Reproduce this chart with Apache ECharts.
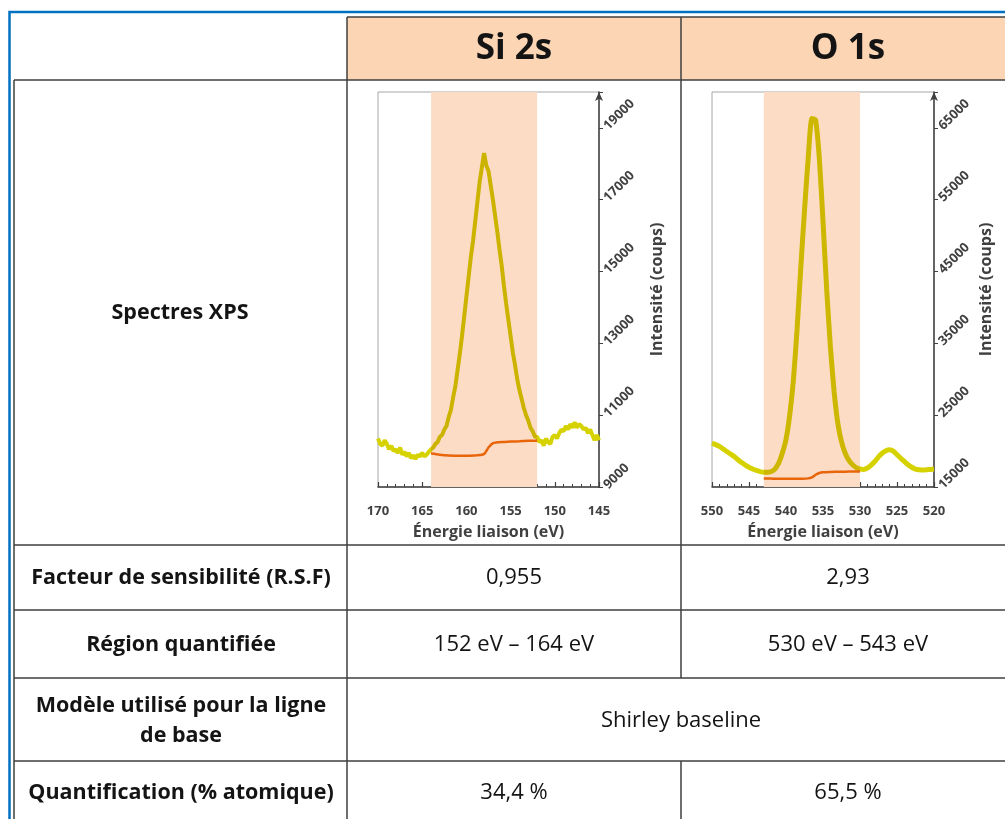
<!DOCTYPE html>
<html><head><meta charset="utf-8">
<script src="https://cdn.jsdelivr.net/npm/echarts@6/dist/echarts.min.js"></script>
<style>html,body{margin:0;padding:0;background:#fff}#c{width:1005px;height:819px}</style>
</head><body><div id="c"></div>
<script>
// ---------- Data ----------
const siEnergy = [170,169.75,169.5,169.25,169,168.75,168.5,168.25,168,167.75,167.5,167.25,167,166.75,166.5,166.25,166,165.75,165.5,165.25,165,164.75,164.5,164.25,164,163.75,163.5,163.25,163,162.75,162.5,162.25,162,161.75,161.5,161.25,161,160.75,160.5,160.25,160,159.75,159.5,159.25,159,158.75,158.5,158.25,158,157.75,157.5,157.25,157,156.75,156.5,156.25,156,155.75,155.5,155.25,155,154.75,154.5,154.25,154,153.75,153.5,153.25,153,152.75,152.5,152.25,152,151.75,151.5,151.25,151,150.75,150.5,150.25,150,149.75,149.5,149.25,149,148.75,148.5,148.25,148,147.75,147.5,147.25,147,146.75,146.5,146.25,146,145.75,145.5,145.25,145];
const siIntensity = [10350,10200,10150,10300,10200,10050,10150,10000,10050,9950,10100,9900,9980,9850,9950,9800,9880,9780,9900,9850,9950,9850,9900,9980,10050,10100,10200,10250,10400,10450,10600,10700,10950,11150,11500,11800,12250,12700,13200,13750,14300,14850,15400,15850,16400,16950,17500,17900,18300,17950,17800,17400,17000,16550,16100,15600,15150,14600,14100,13650,13200,12750,12400,12000,11700,11450,11200,11000,10850,10650,10550,10400,10400,10250,10300,10150,10350,10250,10200,10400,10450,10350,10500,10600,10550,10700,10600,10750,10650,10800,10650,10750,10700,10600,10650,10500,10600,10450,10300,10450,10300];
const siBaseEnergy = [164,163,162,161,160,159,158.5,158,157.5,157,156.5,156,155,154,153,152];
const siBaseIntensity = [9930,9900,9880,9870,9870,9880,9890,9920,10100,10220,10245,10255,10265,10275,10285,10290];
const siRegion = [152, 164];

const oEnergy = [550,549.5,549,548.5,548,547.5,547,546.5,546,545.5,545,544.5,544,543.5,543,542.5,542,541.5,541,540.5,540,539.5,539,538.5,538,537.5,537,536.5,536,535.5,535,534.5,534,533.5,533,532.5,532,531.5,531,530.5,530,529.5,529,528.5,528,527.5,527,526.5,526,525.5,525,524.5,524,523.5,523,522.5,522,521.5,521,520.5,520];
const oIntensity = [21100,20900,20650,20300,19950,19600,19250,18800,18400,18050,17750,17500,17300,17150,17050,17050,17150,17500,18300,19700,21600,25000,29900,37000,45600,53500,60800,66300,66100,60800,52000,42500,34500,28300,23900,21300,19700,18700,18100,17700,17500,17450,17650,18050,18550,19200,19700,20050,20200,20000,19500,19000,18550,18100,17750,17500,17400,17350,17400,17450,17500];
const oBaseEnergy = [543,542,541,540,539,538,537,536.5,536,535.5,535,534,533,532,531,530];
const oBaseIntensity = [16200,16170,16150,16150,16150,16160,16200,16350,16700,16950,17050,17100,17120,17140,17150,17160];
const oRegion = [530, 543];

const headers = ['Si 2s', 'O 1s'];
const rowLabels = ['Spectres XPS', 'Facteur de sensibilité (R.S.F)', 'Région quantifiée', 'Modèle utilisé pour la ligne\nde base', 'Quantification (% atomique)'];
const rsfValues = ['0,955', '2,93'];
const regionValues = ['152 eV – 164 eV', '530 eV – 543 eV'];
const baselineModel = 'Shirley baseline';
const quantValues = ['34,4 %', '65,5 %'];
const siYTicks = [9000, 20000, 2000];
const oYTicks = [15000, 70000, 10000];

// ---------- Style ----------
const FONT = '"Open Sans", Lato, sans-serif';
const LINE = '#3f3f3f';
const AX = '#404040';
const pairs = (xs, ys) => xs.map((x, i) => [x, ys[i]]);

function hline(y, x1, x2) { return {type:'line', shape:{x1:x1,y1:y,x2:x2,y2:y}, style:{stroke:LINE, lineWidth:1.5}, z:10}; }
function vline(x, y1, y2) { return {type:'line', shape:{x1:x,y1:y1,x2:x,y2:y2}, style:{stroke:LINE, lineWidth:1.5}, z:10}; }
function txt(t, x, y, size, bold, lh) {
  return {type:'text', x:x, y:y, z:11, style:{text:t, align:'center', verticalAlign:'middle',
    font:(bold?'bold ':'') + size + 'px ' + FONT, fill:'#141414', lineHeight: lh || size*1.4}};
}

const graphic = [
  {type:'rect', shape:{x:347,y:17,width:334,height:63}, style:{fill:'#fcd5b4'}, z:9},
  {type:'rect', shape:{x:681,y:17,width:330,height:63}, style:{fill:'#fcd5b4'}, z:9},
  {type:'polyline', shape:{points:[[9.5,819],[9.5,12],[1005,12]]}, style:{stroke:'#0070c0', lineWidth:2.5, fill:null}, z:10},
  hline(17,347,1005), hline(80,14,1005), hline(545,14,1005), hline(610,14,1005), hline(678,14,1005), hline(761,14,1005),
  vline(14,80,819), vline(347,17,819), vline(681,17,678), vline(681,761,819),
  txt(headers[0], 514, 49, 35, true), txt(headers[1], 848, 49, 35, true),
  txt(rowLabels[0], 180, 313, 21.5, true),
  txt(rowLabels[1], 181, 578, 21.5, true),
  txt(rowLabels[2], 181, 645, 21.5, true),
  txt(rowLabels[3], 181, 721, 21.5, true, 30),
  txt(rowLabels[4], 181, 793, 21.5, true),
  txt(rsfValues[0], 514, 578, 22, false), txt(rsfValues[1], 848, 578, 22, false),
  txt(regionValues[0], 514, 645, 22, false), txt(regionValues[1], 848, 645, 22, false),
  txt(baselineModel, 681, 721, 22, false),
  txt(quantValues[0], 514, 793, 22, false), txt(quantValues[1], 848, 793, 22, false)
];

function xAxisCfg(gi, min, max) {
  return {gridIndex:gi, type:'value', min:min, max:max, interval:5, inverse:true,
    axisLine:{lineStyle:{color:AX, width:1.5}},
    axisTick:{inside:true, length:5, lineStyle:{color:AX, width:1.2}},
    minorTick:{show:true, splitNumber:5, length:3, lineStyle:{color:AX, width:1}},
    splitLine:{show:false}, minorSplitLine:{show:false},
    axisLabel:{color:AX, fontWeight:'bold', fontSize:13, fontFamily:FONT, margin:18},
    name:'Énergie liaison (eV)', nameLocation:'middle', nameGap:37,
    nameTextStyle:{color:AX, fontWeight:'bold', fontSize:16, fontFamily:FONT}};
}
function yAxisCfg(gi, t, gap) {
  return {gridIndex:gi, type:'value', position:'right', min:t[0], max:t[1], interval:t[2],
    axisLine:{show:true, lineStyle:{color:AX, width:1.5}, symbol:['none','arrow'], symbolSize:[6,9]},
    axisTick:{show:true, length:4, lineStyle:{color:AX}},
    splitLine:{show:false},
    axisLabel:{rotate:45, margin:7, color:AX, fontWeight:'bold', fontSize:13, fontFamily:FONT,
      formatter: v => (v === t[1] ? '' : String(v))},
    name:'Intensité (coups)', nameLocation:'middle', nameRotate:90, nameGap:gap,
    nameTextStyle:{color:AX, fontWeight:'bold', fontSize:16, fontFamily:FONT}};
}

const option = {
  animation:false,
  graphic: graphic,
  grid:[
    {left:378, top:92, width:221, height:395, show:true, borderColor:'#a6a6a6', borderWidth:1, backgroundColor:'transparent'},
    {left:712, top:92, width:222, height:395, show:true, borderColor:'#a6a6a6', borderWidth:1, backgroundColor:'transparent'}
  ],
  xAxis:[xAxisCfg(0,145,170), xAxisCfg(1,520,550)],
  yAxis:[yAxisCfg(0, siYTicks, 50), yAxisCfg(1, oYTicks, 44)],
  visualMap:[
    {type:'piecewise', show:false, seriesIndex:1, dimension:0,
      pieces:[{gte:siRegion[0], lte:siRegion[1], color:'#cbb300'}], outOfRange:{color:'#d6d200'}},
    {type:'piecewise', show:false, seriesIndex:4, dimension:0,
      pieces:[{gte:oRegion[0], lte:oRegion[1], color:'#cdb700'}], outOfRange:{color:'#d6d200'}}
  ],
  series:[
    {type:'line', xAxisIndex:0, yAxisIndex:0, data:[], z:1, silent:true,
      markArea:{silent:true, itemStyle:{color:'#fcdcc5'}, data:[[{xAxis:siRegion[1]},{xAxis:siRegion[0]}]]}},
    {type:'line', xAxisIndex:0, yAxisIndex:0, data:pairs(siEnergy, siIntensity), z:3, symbol:'none',
      lineStyle:{width:4}},
    {type:'line', xAxisIndex:0, yAxisIndex:0, data:pairs(siBaseEnergy, siBaseIntensity), z:4, symbol:'none', smooth:0.3,
      lineStyle:{width:2.5, color:'#e8650a'}},
    {type:'line', xAxisIndex:1, yAxisIndex:1, data:[], z:1, silent:true,
      markArea:{silent:true, itemStyle:{color:'#fcdcc5'}, data:[[{xAxis:oRegion[1]},{xAxis:oRegion[0]}]]}},
    {type:'line', xAxisIndex:1, yAxisIndex:1, data:pairs(oEnergy, oIntensity), z:3, symbol:'none', smooth:0.2,
      lineStyle:{width:5}},
    {type:'line', xAxisIndex:1, yAxisIndex:1, data:pairs(oBaseEnergy, oBaseIntensity), z:4, symbol:'none', smooth:0.3,
      lineStyle:{width:2.5, color:'#e8650a'}}
  ]
};
const chart = echarts.init(document.getElementById('c'), null, {renderer:'canvas'});
chart.setOption(option);
</script>
</body></html>
